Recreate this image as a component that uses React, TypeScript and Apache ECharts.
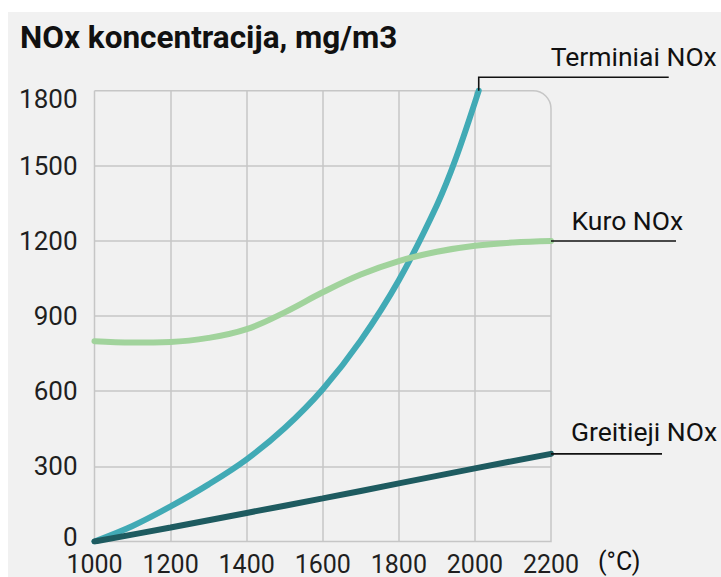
import React, { useEffect, useRef } from "react";
import * as echarts from "echarts";

const titleText = "NOx koncentracija, mg/m3";
const unitText = "(°C)";
const seriesNames = ["Terminiai NOx", "Kuro NOx", "Greitieji NOx"];

const tempMin = 1000;
const tempMax = 2200;
const tempStep = 200;
const concMin = 0;
const concMax = 1800;
const concStep = 300;

const terminiaiT = [1000, 1100, 1200, 1300, 1400, 1500, 1600, 1700, 1800, 1900, 1950, 2010];
const terminiaiV = [0, 62, 140, 228, 328, 453, 608, 803, 1043, 1343, 1530, 1800];

const kuroT = [1000, 1100, 1200, 1300, 1400, 1500, 1600, 1700, 1800, 1900, 2000, 2100, 2200];
const kuroV = [800, 795, 797, 813, 848, 915, 995, 1066, 1120, 1157, 1181, 1194, 1200];

const greitiejiT = [1000, 1200, 1400, 1600, 1800, 2000, 2200];
const greitiejiV = [0, 56, 114, 172, 232, 292, 350];

const colors = ["#41aab5", "#a1d39c", "#1e5b60"];
const FONT = "Roboto, 'Noto Sans', sans-serif";

function pairs(xs: number[], ys: number[]) {
  return xs.map((x, i) => [x, ys[i]]);
}

export default function App() {
  const ref = useRef<HTMLDivElement>(null);

  useEffect(() => {
    if (!ref.current) return;
    const chart = echarts.init(ref.current, null, { renderer: "svg" });
    const xLabelStyle = { fontSize: 25, color: "#1f1f1f", fontFamily: FONT };
    const yLabelStyle = { fontSize: 26, color: "#1f1f1f", fontFamily: FONT };
    const option: any = {
      animation: false,
      backgroundColor: "#f1f1f1",
      grid: { left: 86.5, right: 170, top: 78.7, bottom: 35.5, containLabel: false },
      xAxis: {
        type: "value",
        min: tempMin,
        max: tempMax,
        interval: tempStep,
        axisLine: { show: false },
        axisTick: { show: false },
        axisLabel: { ...xLabelStyle, margin: 10, formatter: (v: number) => String(v) },
        splitLine: {
          show: true,
          showMinLine: false,
          showMaxLine: false,
          lineStyle: { color: "#c6c6c6", width: 1.5 },
        },
      },
      yAxis: {
        type: "value",
        min: concMin,
        max: concMax,
        interval: concStep,
        axisLine: { show: false },
        axisTick: { show: false },
        axisLabel: {
          ...yLabelStyle,
          margin: 17,
          formatter: (v: number) =>
            v === concMax ? `{top|${v}}` : v === concMin ? `{bot|${v}}` : `{n|${v}}`,
          rich: {
            top: { ...yLabelStyle, padding: [16, 0, 0, 0] },
            bot: { ...yLabelStyle, padding: [0, 0, 10, 0] },
            n: { ...yLabelStyle },
          },
        },
        splitLine: {
          show: true,
          showMinLine: false,
          showMaxLine: false,
          lineStyle: { color: "#c6c6c6", width: 1.5 },
        },
      },
      series: [
        {
          name: seriesNames[0],
          type: "line",
          data: pairs(terminiaiT, terminiaiV),
          smooth: 0.35,
          symbol: "none",
          lineStyle: { color: colors[0], width: 6, cap: "round" },
          z: 3,
        },
        {
          name: seriesNames[2],
          type: "line",
          data: pairs(greitiejiT, greitiejiV),
          smooth: 0.3,
          symbol: "none",
          lineStyle: { color: colors[2], width: 6, cap: "round" },
          z: 4,
        },
        {
          name: seriesNames[1],
          type: "line",
          data: pairs(kuroT, kuroV),
          smooth: 0.4,
          symbol: "none",
          lineStyle: { color: colors[1], width: 6, cap: "round" },
          z: 5,
        },
      ],
    };
    chart.setOption(option);

    const px = (x: number, y: number) => chart.convertToPixel({ gridIndex: 0 }, [x, y]) as number[];
    const tl = px(tempMin, concMax);
    const br = px(tempMax, concMin);
    const tEnd = px(terminiaiT[terminiaiT.length - 1], terminiaiV[terminiaiV.length - 1]);
    const kEnd = px(kuroT[kuroT.length - 1], kuroV[kuroV.length - 1]);
    const gEnd = px(greitiejiT[greitiejiT.length - 1], greitiejiV[greitiejiV.length - 1]);

    const lineStyle = { stroke: "#111111", lineWidth: 1.6 };
    const txt = (text: string, x: number, y: number, size: number, weight: string = "normal") => ({
      type: "text",
      z: 20,
      style: {
        text,
        x,
        y,
        fill: "#111111",
        fontSize: size,
        fontWeight: weight,
        fontFamily: FONT,
        align: "left",
        verticalAlign: "middle",
        textAlign: "left",
        textVerticalAlign: "middle",
      },
    });

    chart.setOption({
      graphic: [
        {
          type: "rect",
          z: 1,
          shape: { x: tl[0], y: tl[1], width: br[0] - tl[0], height: br[1] - tl[1], r: [0, 18, 0, 0] },
          style: { fill: "none", stroke: "#c6c6c6", lineWidth: 1.5 },
        },
        {
          type: "polyline",
          z: 10,
          shape: {
            points: [
              [tEnd[0], tEnd[1]],
              [tEnd[0], tEnd[1] - 13.5],
              [tEnd[0] + 190, tEnd[1] - 13.5],
            ],
          },
          style: { ...lineStyle, fill: "none" },
        },
        {
          type: "line",
          z: 10,
          shape: { x1: kEnd[0], y1: kEnd[1], x2: kEnd[0] + 125, y2: kEnd[1] },
          style: lineStyle,
        },
        {
          type: "line",
          z: 10,
          shape: { x1: gEnd[0], y1: gEnd[1], x2: gEnd[0] + 111, y2: gEnd[1] },
          style: lineStyle,
        },
        txt(titleText, 12, 25, 31.5, "bold"),
        txt(seriesNames[0], tEnd[0] + 72, tEnd[1] - 34, 26.5),
        txt(seriesNames[1], kEnd[0] + 20.5, kEnd[1] - 20, 26.5),
        txt(seriesNames[2], gEnd[0] + 20, gEnd[1] - 22.5, 26.5),
        txt(unitText, br[0] + 47, br[1] + 19.5, 25),
      ],
    });

    return () => chart.dispose();
  }, []);

  return (
    <div
      ref={ref}
      style={{ position: "absolute", left: 8, top: 12, width: 713, height: 565 }}
    />
  );
}
